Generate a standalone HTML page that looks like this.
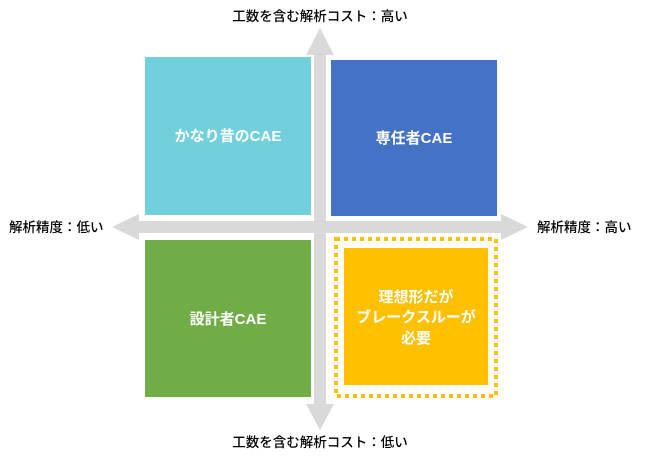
<!DOCTYPE html>
<html><head><meta charset="utf-8"><style>
html,body{margin:0;padding:0;background:#fff;}
svg{display:block;}
text{font-family:"Liberation Sans","Noto Sans CJK JP",sans-serif;}
</style></head><body>
<svg width="649" height="459" viewBox="0 0 649 459" xmlns="http://www.w3.org/2000/svg">
<rect width="649" height="459" fill="#fff"/>
<!-- axes -->
<g fill="#d9d9d9">
<rect x="314" y="54" width="12" height="352"/>
<polygon points="320,28 334,55 306,55"/>
<polygon points="320,430 334,404 306,404"/>
<rect x="136" y="221" width="368" height="12"/>
<polygon points="112,227 139,214 139,240"/>
<polygon points="528,227 501,214 501,240"/>
</g>
<!-- boxes -->
<rect x="145" y="57" width="166" height="158" fill="#72d0dd"/>
<rect x="331" y="60" width="166" height="156" fill="#4472c4"/>
<rect x="145" y="240" width="166" height="157" fill="#70ad47"/>
<rect x="336" y="239" width="160" height="157" fill="none" stroke="#ffc000" stroke-width="4" stroke-dasharray="4,4"/>
<rect x="344" y="248" width="144" height="137" fill="#ffc000"/>
<g fill="#fff" font-size="15" font-weight="bold" text-anchor="middle">
<text x="228" y="141">かなり昔のCAE</text>
<text x="414" y="143">専任者CAE</text>
<text x="228" y="324">設計者CAE</text>
<text x="416" y="302">理想形だが</text>
<text x="416" y="322">ブレークスルーが</text>
<text x="416" y="343">必要</text>
</g>
<g fill="#000" font-size="13.5" font-weight="500">
<text x="320" y="21" text-anchor="middle">工数を含む解析コスト：高い</text>
<text x="320" y="447" text-anchor="middle">工数を含む解析コスト：低い</text>
<text x="9" y="232">解析精度：低い</text>
<text x="537" y="232">解析精度：高い</text>
</g>
</svg>
</body></html>
